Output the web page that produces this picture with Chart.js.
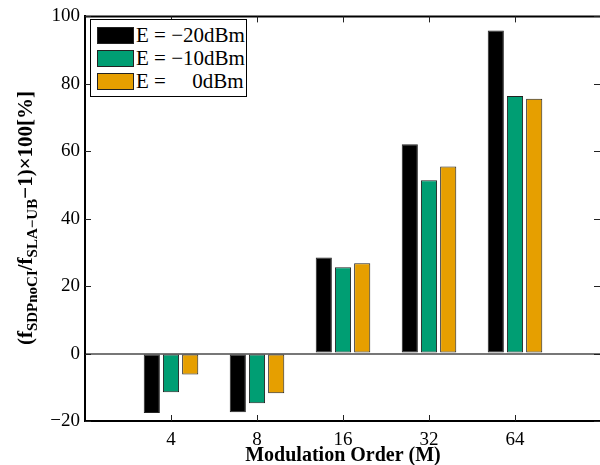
<!DOCTYPE html>
<html>
<head>
<meta charset="utf-8">
<script src="https://cdn.jsdelivr.net/npm/chart.js@4.4.0/dist/chart.umd.min.js"></script>
<style>
html, body { margin: 0; padding: 0; background: #fff; overflow: hidden; }
#wrap { position: relative; width: 600px; height: 465px; overflow: hidden; }
#chart { position: absolute; left: 0; top: 0; }
#ytitle { position: absolute; left: 27px; top: 218px; transform: translate(-50%, -50%) rotate(-90deg);
  font: bold 21px "Liberation Serif", serif; white-space: nowrap; color: #000; }
#ytitle sub { font-size: 15px; }
#legend { position: absolute; left: 90px; top: 19px; width: 155px; padding: 4px 0 3px 0;
  border: 1px solid #000; background: #fff; font: 21px "Liberation Serif", serif; z-index: 2; }
.item { display: flex; align-items: center; height: 23px; }
.sw { width: 35px; height: 15px; margin: 0 2px 0 6px; border: 1px solid #222; }
.lbl { white-space: pre; }
#axes { position: absolute; left: 0; top: 0; z-index: 1; }
</style>
</head>
<body>
<div id="wrap">
  <canvas id="chart" width="620" height="468"></canvas>
  <svg id="axes" width="600" height="465"></svg>
  <div id="ytitle">(f<sub>SDPnoCI</sub>/f<sub>SLA&minus;UB</sub>&minus;1)&times;100[%]</div>
  <div id="legend"></div>
</div>
<script>
const categories = ['4', '8', '16', '32', '64'];
const seriesLabels = ['E = \u221220dBm', 'E = \u221210dBm', 'E =     0dBm'];
const seriesColors = ['#000000', '#009e73', '#e69f00'];
const em20 = [-17.6, -17.4, 28.5, 62.1, 95.8];
const em10 = [-11.5, -14.7, 25.6, 51.4, 76.4];
const e0 = [-6.2, -11.8, 26.8, 55.5, 75.6];
const yTicks = [-20, 0, 20, 40, 60, 80, 100];

const values = [em20, em10, e0];

// empty slots at both ends so the axis runs from 0 to 6
const labels = [''].concat(categories, ['']);

const legend = document.getElementById('legend');
seriesLabels.forEach(function (l, i) {
    const row = document.createElement('div');
    row.className = 'item';
    row.innerHTML = '<div class="sw" style="background:' + seriesColors[i] + '"></div><span class="lbl"></span>';
    row.querySelector('.lbl').textContent = l;
    legend.appendChild(row);
});

const chart = new Chart(document.getElementById('chart'), {
    type: 'bar',
    data: {
        labels: labels,
        datasets: values.map(function (v, i) {
            return {
                label: seriesLabels[i],
                data: [null].concat(v, [null]),
                backgroundColor: seriesColors[i],
                borderColor: '#222',
                borderWidth: 1,
                borderSkipped: false,
                categoryPercentage: 0.67,
                barPercentage: 0.84
            };
        })
    },
    options: {
        responsive: false,
        animation: false,
        layout: { padding: { top: 13.6, right: 19, left: 0, bottom: 0 } },
        plugins: { legend: { display: false }, tooltip: { enabled: false } },
        scales: {
            x: {
                type: 'category',
                offset: false,
                grid: { display: false },
                border: { display: true, color: '#000', width: 2 },
                ticks: {
                    color: '#000', autoSkip: false, maxRotation: 0, padding: 0,
                    font: { family: 'Liberation Serif', size: 19 }
                },
                title: {
                    display: true, text: 'Modulation Order (M)', color: '#000', padding: 0,
                    font: { family: 'Liberation Serif', size: 20, weight: 'bold' }
                },
                afterFit: function (s) { s.height = 47; }
            },
            y: {
                min: -20, max: 100,
                grid: {
                    drawTicks: false,
                    color: function (c) { return c.tick && c.tick.value === 0 ? '#777' : 'rgba(0,0,0,0)'; },
                    lineWidth: function (c) { return c.tick && c.tick.value === 0 ? 2 : 1; }
                },
                border: { display: true, color: '#000', width: 2 },
                afterBuildTicks: function (s) { s.ticks = yTicks.map(function (v) { return { value: v }; }); },
                ticks: {
                    color: '#000', padding: 5,
                    font: { family: 'Liberation Serif', size: 19 },
                    callback: function (v) { return v < 0 ? '\u2212' + Math.abs(v) : String(v); }
                },
                afterFit: function (s) { s.width = 85; }
            }
        }
    }
});

// axes box and inward tick marks, placed from the chart's own scales
const svg = document.getElementById('axes');
const a = chart.chartArea;
function line(x1, y1, x2, y2, w, c) {
    const el = document.createElementNS('http://www.w3.org/2000/svg', 'line');
    el.setAttribute('x1', x1); el.setAttribute('y1', y1);
    el.setAttribute('x2', x2); el.setAttribute('y2', y2);
    el.setAttribute('stroke', c); el.setAttribute('stroke-width', w);
    svg.appendChild(el);
}
line(a.left, a.top, a.right, a.top, 2, '#000');
line(a.left, a.bottom, a.right, a.bottom, 2, '#000');
line(a.left, a.top - 1, a.left, a.bottom + 1, 2, '#000');
for (let i = 1; i <= categories.length; i++) {
    const px = Math.round(chart.scales.x.getPixelForValue(i)) + 0.5;
    line(px, a.bottom, px, a.bottom - 6, 1, '#222');
    line(px, a.top, px, a.top + 6, 1, '#222');
}
yTicks.forEach(function (v) {
    const py = Math.round(chart.scales.y.getPixelForValue(v)) + 0.5;
    line(a.left, py, a.left + 6, py, 1, '#222');
    line(a.right, py, a.right - 7, py, 1, '#222');
});
</script>
</body>
</html>
